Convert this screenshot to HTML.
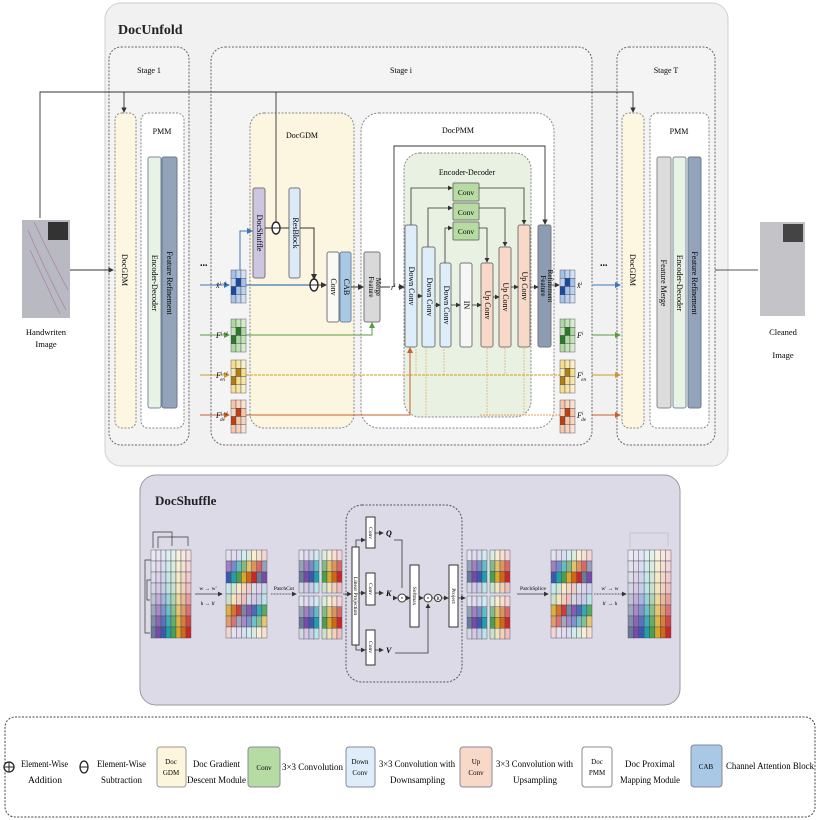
<!DOCTYPE html>
<html><head><meta charset="utf-8"><style>
html,body{margin:0;padding:0;background:#fff;}
svg{display:block;font-family:"Liberation Serif",serif;}
</style></head><body>
<svg id="s" width="820" height="820" viewBox="0 0 820 820" xmlns="http://www.w3.org/2000/svg">
<defs>
<marker id="a" markerWidth="6" markerHeight="6" refX="5" refY="3" orient="auto"><path d="M0,0 L6,3 L0,6z" fill="#333"/></marker>
<marker id="ab" markerWidth="6" markerHeight="6" refX="5" refY="3" orient="auto"><path d="M0,0 L6,3 L0,6z" fill="#3a78b8"/></marker>
<marker id="ag" markerWidth="6" markerHeight="6" refX="5" refY="3" orient="auto"><path d="M0,0 L6,3 L0,6z" fill="#5a9a40"/></marker>
<marker id="ay" markerWidth="6" markerHeight="6" refX="5" refY="3" orient="auto"><path d="M0,0 L6,3 L0,6z" fill="#c89a30"/></marker>
<marker id="ao" markerWidth="6" markerHeight="6" refX="5" refY="3" orient="auto"><path d="M0,0 L6,3 L0,6z" fill="#c8602a"/></marker>
</defs>

<!-- DocUnfold panel -->
<rect x="105" y="3" width="623" height="463" rx="16" fill="#f1f1f1" stroke="#cfcfcf"/>
<text x="118" y="34" font-size="14" font-weight="bold" fill="#222">DocUnfold</text>

<rect x="109" y="47" width="80" height="398" rx="12" fill="#f4f4f4" stroke="#666" stroke-dasharray="2,1.5"/>
<rect x="211" y="47" width="381" height="398" rx="14" fill="#f4f4f4" stroke="#666" stroke-dasharray="2,1.5"/>
<rect x="617" y="47" width="98" height="398" rx="12" fill="#f4f4f4" stroke="#666" stroke-dasharray="2,1.5"/>
<text x="149" y="73" font-size="8" text-anchor="middle">Stage 1</text>
<text x="401" y="73" font-size="8" text-anchor="middle">Stage i</text>
<text x="666" y="73" font-size="8" text-anchor="middle">Stage T</text>

<!-- stage 1 -->
<rect x="115" y="113" width="21" height="315" rx="7" fill="#fdf7e2" stroke="#888" stroke-dasharray="2,1.5"/>
<text transform="translate(122,270) rotate(90)" font-size="8" text-anchor="middle">DocGDM</text>
<rect x="141" y="113" width="43" height="315" rx="7" fill="#fff" stroke="#888" stroke-dasharray="2,1.5"/>
<text x="162" y="134" font-size="8" text-anchor="middle">PMM</text>
<rect x="148" y="157" width="13" height="251" rx="2" fill="#e8f3e6" stroke="#7a8a99"/>
<rect x="162" y="157" width="15" height="251" rx="2" fill="#93a3ba" stroke="#6a7a90"/>
<text transform="translate(152,283) rotate(90)" font-size="8" text-anchor="middle">Encoder-Decoder</text>
<text transform="translate(167,283) rotate(90)" font-size="8" text-anchor="middle">Feature Refinement</text>

<!-- stage T -->
<rect x="622" y="113" width="22" height="315" rx="7" fill="#fdf7e2" stroke="#888" stroke-dasharray="2,1.5"/>
<text transform="translate(630,270) rotate(90)" font-size="8" text-anchor="middle">DocGDM</text>
<rect x="650" y="113" width="59" height="315" rx="7" fill="#fff" stroke="#888" stroke-dasharray="2,1.5"/>
<text x="679" y="134" font-size="8" text-anchor="middle">PMM</text>
<rect x="657" y="157" width="14" height="251" rx="2" fill="#dcdcdc" stroke="#8a8a8a"/>
<rect x="673" y="157" width="13" height="251" rx="2" fill="#e8f3e6" stroke="#7a8a99"/>
<rect x="688" y="157" width="13" height="251" rx="2" fill="#93a3ba" stroke="#6a7a90"/>
<text transform="translate(661,283) rotate(90)" font-size="8" text-anchor="middle">Feature Merge</text>
<text transform="translate(677,283) rotate(90)" font-size="8" text-anchor="middle">Encoder-Decoder</text>
<text transform="translate(692,283) rotate(90)" font-size="8" text-anchor="middle">Feature Refinement</text>

<!-- stage i: DocGDM & DocPMM -->
<rect x="250" y="113" width="104" height="315" rx="14" fill="#fcf6e0" stroke="#888" stroke-dasharray="2,1.5"/>
<text x="302" y="138" font-size="8" text-anchor="middle">DocGDM</text>
<rect x="361" y="113" width="193" height="315" rx="18" fill="#fff" stroke="#888" stroke-dasharray="2,1.5"/>
<text x="458" y="133" font-size="8" text-anchor="middle">DocPMM</text>
<rect x="404" y="153" width="127" height="264" rx="16" fill="#e8f1e2" stroke="#888" stroke-dasharray="2,1.5"/>
<text x="467" y="175" font-size="8" text-anchor="middle">Encoder-Decoder</text>

<!-- top line -->
<polyline points="40,218 40,92 633,92 633,112" fill="none" stroke="#333" stroke-width="0.9" marker-end="url(#a)"/>
<line x1="124" y1="92" x2="124" y2="112" stroke="#333" stroke-width="0.9" marker-end="url(#a)"/>
<line x1="276" y1="92" x2="276" y2="221" stroke="#333" stroke-width="0.9"/>
<!-- left image -->
<rect x="22" y="220" width="48" height="98" fill="#b9b9c2"/>
<rect x="48" y="222" width="20" height="18" fill="#333"/>
<path d="M28,230 Q45,270 66,310 M30,250 Q44,280 60,314 M34,222 Q52,260 68,290" stroke="#b07ab0" stroke-width="0.7" fill="none"/>
<text x="46" y="335" font-size="8.5" text-anchor="middle">Handwriten</text>
<text x="46" y="347" font-size="8.5" text-anchor="middle">Image</text>
<line x1="70" y1="270" x2="113" y2="270" stroke="#333" stroke-width="0.9" marker-end="url(#a)"/>
<!-- right image -->
<rect x="760" y="222" width="45" height="94" fill="#c4c4c8"/>
<rect x="783" y="224" width="20" height="18" fill="#444"/>
<text x="783" y="335" font-size="8.5" text-anchor="middle">Cleaned</text>
<text x="783" y="358" font-size="8.5" text-anchor="middle">Image</text>
<line x1="715" y1="270" x2="758" y2="270" stroke="#555" stroke-width="0.9"/>
<text x="200" y="266" font-size="10" font-weight="bold">...</text>
<text x="600" y="266" font-size="10" font-weight="bold">...</text>

<!-- colored lines -->
<line x1="200" y1="285" x2="229" y2="285" stroke="#3a78b8" marker-end="url(#ab)"/>
<line x1="200" y1="335" x2="229" y2="335" stroke="#5a9a40" marker-end="url(#ag)"/>
<line x1="200" y1="375" x2="229" y2="375" stroke="#c89a30" marker-end="url(#ay)"/>
<line x1="200" y1="415" x2="229" y2="415" stroke="#c8602a" marker-end="url(#ao)"/>
<line x1="592" y1="285" x2="620" y2="285" stroke="#3a78b8" marker-end="url(#ab)"/>
<line x1="592" y1="335" x2="620" y2="335" stroke="#5a9a40" marker-end="url(#ag)"/>
<line x1="592" y1="375" x2="620" y2="375" stroke="#c89a30" marker-end="url(#ay)"/>
<line x1="592" y1="415" x2="620" y2="415" stroke="#c8602a" marker-end="url(#ao)"/>
<line x1="246" y1="285" x2="310" y2="285" stroke="#3a78b8" stroke-width="1.2"/>
<polyline points="240,270 240,231 252,231" fill="none" stroke="#3a78b8" marker-end="url(#ab)"/>
<polyline points="246,335 372,335 372,323" fill="none" stroke="#5a9a40" marker-end="url(#ag)"/>
<line x1="246" y1="375" x2="560" y2="375" stroke="#d8b040" stroke-width="1.2" stroke-dasharray="3,1"/>
<polyline points="246,415 410,415 410,348" fill="none" stroke="#c8602a" marker-end="url(#ao)"/>
<line x1="480" y1="415" x2="560" y2="415" stroke="#e0a060" stroke-dasharray="2,1"/>
<g stroke="#e0b060" stroke-width="0.7" stroke-dasharray="2,1">
<line x1="416" y1="375" x2="416" y2="348"/><line x1="426" y1="415" x2="426" y2="348"/><line x1="444" y1="375" x2="444" y2="348"/>
<line x1="487" y1="348" x2="487" y2="415"/><line x1="505" y1="348" x2="505" y2="375"/><line x1="524" y1="348" x2="524" y2="415"/>
</g>

<!-- DocGDM internals -->
<rect x="253" y="188" width="12" height="90" rx="2" fill="#cdc6e0" stroke="#777"/>
<text transform="translate(257,233) rotate(90)" font-size="8" text-anchor="middle">DocShuffle</text>
<rect x="289" y="188" width="11" height="90" rx="2" fill="#dce9f7" stroke="#777"/>
<text transform="translate(293,233) rotate(90)" font-size="8" text-anchor="middle">ResBlock</text>
<line x1="265" y1="228" x2="289" y2="228" stroke="#333"/>
<ellipse cx="276" cy="228" rx="4" ry="6" fill="#fff" stroke="#222" stroke-width="1.4"/><line x1="272" y1="228" x2="280" y2="228" stroke="#222"/>
<polyline points="300,228 314,228 314,279" fill="none" stroke="#333" marker-end="url(#a)"/>
<ellipse cx="314" cy="285" rx="4" ry="6" fill="#fff" stroke="#222" stroke-width="1.4"/><line x1="310" y1="285" x2="318" y2="285" stroke="#222"/>
<line x1="318" y1="285" x2="326" y2="285" stroke="#333" marker-end="url(#a)"/>
<rect x="327" y="252" width="12" height="70" rx="2" fill="#fafaf5" stroke="#777"/>
<rect x="340" y="252" width="11" height="70" rx="2" fill="#a9c8e6" stroke="#6a88a8"/>
<text transform="translate(331,287) rotate(90)" font-size="8" text-anchor="middle">Conv</text>
<text transform="translate(344,287) rotate(90)" font-size="8" text-anchor="middle">CAB</text>
<line x1="351" y1="287" x2="363" y2="287" stroke="#333" marker-end="url(#a)"/>
<rect x="364" y="252" width="16" height="70" rx="2" fill="#d9d9d9" stroke="#777"/>
<text transform="translate(369,287) rotate(90)" font-size="7" text-anchor="middle">Feature</text>
<text transform="translate(376,287) rotate(90)" font-size="7" text-anchor="middle">Merge</text>
<line x1="380" y1="287" x2="390" y2="287" stroke="#333"/>
<text x="391" y="290" font-size="8" font-style="italic">r<tspan font-size="5" dy="-3">i</tspan></text>
<line x1="398" y1="287" x2="404" y2="287" stroke="#333" marker-end="url(#a)"/>

<!-- encoder-decoder -->
<polyline points="394,287 394,146 545,146 545,224" fill="none" stroke="#333" stroke-width="0.9" marker-end="url(#a)"/>
<g stroke="#777">
<rect x="405" y="225" width="12" height="122" rx="2" fill="#ddeefa"/>
<rect x="422" y="247" width="13" height="100" rx="2" fill="#ddeefa"/>
<rect x="440" y="263" width="11" height="84" rx="2" fill="#ddeefa"/>
<rect x="460" y="263" width="12" height="84" rx="2" fill="#f6f6f6"/>
<rect x="481" y="263" width="12" height="84" rx="2" fill="#f8d9c8"/>
<rect x="499" y="247" width="12" height="100" rx="2" fill="#f8d9c8"/>
<rect x="518" y="225" width="12" height="122" rx="2" fill="#f8d9c8"/>
<rect x="538" y="225" width="13" height="122" rx="2" fill="#8c9db3"/>
<rect x="453" y="183" width="26" height="18" rx="1" fill="#b6dca4"/>
<rect x="453" y="203" width="26" height="17" rx="1" fill="#b6dca4"/>
<rect x="453" y="222" width="26" height="18" rx="1" fill="#b6dca4"/>
</g>
<text x="466" y="195" font-size="7.5" text-anchor="middle">Conv</text>
<text x="466" y="215" font-size="7.5" text-anchor="middle">Conv</text>
<text x="466" y="234" font-size="7.5" text-anchor="middle">Conv</text>
<g font-size="8" text-anchor="middle">
<text transform="translate(409,286) rotate(90)">Down Conv</text>
<text transform="translate(427,297) rotate(90)">Down Conv</text>
<text transform="translate(444,305) rotate(90)">Down Conv</text>
<text transform="translate(464,305) rotate(90)">IN</text>
<text transform="translate(485,305) rotate(90)">Up Conv</text>
<text transform="translate(503,297) rotate(90)">Up Conv</text>
<text transform="translate(522,286) rotate(90)">Up Conv</text>
<text transform="translate(541,286) rotate(90)" font-size="7">Feature</text>
<text transform="translate(548,286) rotate(90)" font-size="7">Refinement</text>
</g>
<g stroke="#333" stroke-width="0.8" fill="none">
<line x1="417" y1="296" x2="422" y2="296" marker-end="url(#a)"/>
<line x1="435" y1="305" x2="440" y2="305" marker-end="url(#a)"/>
<line x1="451" y1="305" x2="460" y2="305" marker-end="url(#a)"/>
<line x1="472" y1="305" x2="481" y2="305" marker-end="url(#a)"/>
<line x1="493" y1="297" x2="499" y2="297" marker-end="url(#a)"/>
<line x1="511" y1="287" x2="518" y2="287" marker-end="url(#a)"/>
<line x1="530" y1="287" x2="538" y2="287" marker-end="url(#a)"/>
<polyline points="411,225 411,188 452,188" marker-end="url(#a)"/>
<polyline points="479,188 524,188 524,224" marker-end="url(#a)"/>
<polyline points="428,247 428,208 452,208" marker-end="url(#a)"/>
<polyline points="479,208 505,208 505,246" marker-end="url(#a)"/>
<polyline points="445,263 445,228 452,228" marker-end="url(#a)"/>
<polyline points="479,228 487,228 487,262" marker-end="url(#a)"/>
<line x1="551" y1="285" x2="559" y2="285" marker-end="url(#a)"/>
</g>

<!-- labels near grids -->
<g font-size="8" font-style="italic">
<text x="216" y="288">x̂<tspan font-size="5" dy="-3">i−1</tspan></text>
<text x="216" y="338">F<tspan font-size="5" dy="-3">i−1</tspan></text>
<text x="216" y="378">F<tspan font-size="5" dy="-3">i−1</tspan><tspan font-size="5" dx="-8" dy="6">en</tspan></text>
<text x="216" y="418">F<tspan font-size="5" dy="-3">i−1</tspan><tspan font-size="5" dx="-8" dy="6">de</tspan></text>
<text x="577" y="288">x̂<tspan font-size="5" dy="-3">i</tspan></text>
<text x="577" y="338">F<tspan font-size="5" dy="-3">i</tspan></text>
<text x="577" y="378">F<tspan font-size="5" dy="-3">i</tspan><tspan font-size="5" dx="-2" dy="6">en</tspan></text>
<text x="577" y="418">F<tspan font-size="5" dy="-3">i</tspan><tspan font-size="5" dx="-2" dy="6">de</tspan></text>
</g>
<g id="grids"></g>

<!-- DocShuffle panel -->
<rect x="140" y="475" width="540" height="230" rx="16" fill="#dddae8" stroke="#999"/>
<text x="155" y="505" font-size="13" font-weight="bold" fill="#222">DocShuffle</text>
<g id="grids2"></g>
<rect x="346" y="505" width="116" height="177" rx="16" fill="none" stroke="#555" stroke-dasharray="2,1.5"/>
<g stroke="#333" stroke-width="0.7" fill="none">
<polyline points="153,548 153,532 172,532 172,546"/>
<polyline points="158,548 158,537 188,537 188,546"/>
<polyline points="151,560 145,560 145,633 150,633"/>
<polyline points="151,580 147,580 147,600 150,600"/>
<polyline points="630,548 630,533 668,533 668,546" stroke="#bbb"/>
</g>
<g stroke="#333" stroke-width="0.8" fill="none">
<line x1="195" y1="594" x2="222" y2="594" marker-end="url(#a)"/>
<line x1="271" y1="594" x2="296" y2="594" stroke-dasharray="1,0.5" marker-end="url(#a)"/>
<line x1="343" y1="594" x2="351" y2="594" marker-end="url(#a)"/>
<polyline points="356,547 356,540 365,540" marker-end="url(#a)"/>
<line x1="359" y1="593" x2="365" y2="593" marker-end="url(#a)"/>
<polyline points="356,645 356,650 365,650" marker-end="url(#a)"/>
<line x1="375" y1="533" x2="383" y2="533" marker-end="url(#a)"/>
<line x1="375" y1="593" x2="383" y2="593" marker-end="url(#a)"/>
<line x1="375" y1="650" x2="383" y2="650" marker-end="url(#a)"/>
<polyline points="394,540 402,540 402,588"/>
<line x1="394" y1="598" x2="397" y2="598" marker-end="url(#a)"/>
<line x1="406" y1="598" x2="410" y2="598" marker-end="url(#a)"/>
<line x1="419" y1="598" x2="423" y2="598" marker-end="url(#a)"/>
<polyline points="395,653 428,653 428,604" marker-end="url(#a)"/>
<line x1="432" y1="598" x2="435" y2="598"/>
<line x1="442" y1="598" x2="448" y2="598" marker-end="url(#a)"/>
<line x1="458" y1="598" x2="465" y2="598" marker-end="url(#a)"/>
<line x1="517" y1="594" x2="548" y2="594" marker-end="url(#a)"/>
<line x1="594" y1="594" x2="626" y2="594" stroke-dasharray="1,0.5" marker-end="url(#a)"/>
</g>
<g font-size="5.5" text-anchor="middle">
<text x="208" y="590">w → w'</text><text x="208" y="605">h → h'</text>
<text x="284" y="590">PatchCut</text>
<text x="533" y="590">PatchSplice</text>
<text x="610" y="590">w' → w</text><text x="610" y="605">h' → h</text>
</g>
<g stroke="#333" fill="#fff">
<rect x="352" y="547" width="7" height="98"/>
<rect x="366" y="517" width="9" height="31"/>
<rect x="366" y="573" width="9" height="32"/>
<rect x="366" y="630" width="9" height="35"/>
<rect x="410" y="565" width="9" height="62"/>
<rect x="449" y="565" width="9" height="62"/>
<circle cx="402" cy="598" r="4"/><circle cx="428" cy="598" r="4"/><circle cx="438" cy="598" r="3.5"/>
</g>
<g font-size="5.5" text-anchor="middle">
<text transform="translate(354,596) rotate(90)">Linear Projection</text>
<text transform="translate(369,533) rotate(90)">Conv</text>
<text transform="translate(369,589) rotate(90)">Conv</text>
<text transform="translate(369,647) rotate(90)">Conv</text>
<text transform="translate(413,596) rotate(90)">Softmax</text>
<text transform="translate(452,596) rotate(90)">Project</text>
<text x="402" y="600" font-size="6">×</text><text x="428" y="600" font-size="6">×</text><text x="438" y="600" font-size="5">R</text>
</g>
<g font-size="8" font-style="italic" font-weight="bold">
<text x="386" y="536">Q</text><text x="386" y="596">K</text><text x="386" y="653">V</text>
</g>

<!-- legend -->
<rect x="5" y="717" width="810" height="100" rx="10" fill="#fff" stroke="#444" stroke-dasharray="2,1.5"/>
<g font-size="9" lengthAdjust="spacingAndGlyphs">
<circle cx="9" cy="767" r="5" fill="#fff" stroke="#222" stroke-width="1.3"/><line x1="4" y1="767" x2="14" y2="767" stroke="#222"/><line x1="9" y1="762" x2="9" y2="772" stroke="#222"/>
<text x="21" y="767" textLength="47" lengthAdjust="spacingAndGlyphs">Element-Wise</text><text x="28" y="783" textLength="34" lengthAdjust="spacingAndGlyphs">Addition</text>
<ellipse cx="84" cy="767" rx="4" ry="6" fill="#fff" stroke="#222" stroke-width="1.3"/><line x1="80" y1="767" x2="88" y2="767" stroke="#222"/>
<text x="97" y="767" textLength="49" lengthAdjust="spacingAndGlyphs">Element-Wise</text><text x="101" y="783" textLength="41" lengthAdjust="spacingAndGlyphs">Subtraction</text>
<rect x="157" y="747" width="29" height="40" rx="3" fill="#fdf6dc" stroke="#999"/>
<text x="171" y="764" font-size="7" text-anchor="middle">Doc</text><text x="171" y="775" font-size="7" text-anchor="middle">GDM</text>
<text x="193" y="767" textLength="47" lengthAdjust="spacingAndGlyphs">Doc Gradient</text><text x="187" y="783" textLength="59" lengthAdjust="spacingAndGlyphs">Descent Module</text>
<rect x="248" y="747" width="32" height="40" rx="3" fill="#b6dca4" stroke="#889"/>
<text x="264" y="770" font-size="7" text-anchor="middle">Conv</text>
<text x="282" y="770" textLength="61" lengthAdjust="spacingAndGlyphs">3×3 Convolution</text>
<rect x="346" y="747" width="29" height="40" rx="3" fill="#ddeefa" stroke="#889"/>
<text x="360" y="764" font-size="7" text-anchor="middle">Down</text><text x="360" y="775" font-size="7" text-anchor="middle">Conv</text>
<text x="379" y="767" textLength="76" lengthAdjust="spacingAndGlyphs">3×3 Convolution with</text><text x="390" y="783" textLength="55" lengthAdjust="spacingAndGlyphs">Downsampling</text>
<rect x="460" y="747" width="32" height="40" rx="3" fill="#f8d9c8" stroke="#889"/>
<text x="476" y="764" font-size="7" text-anchor="middle">Up</text><text x="476" y="775" font-size="7" text-anchor="middle">Conv</text>
<text x="496" y="767" textLength="77" lengthAdjust="spacingAndGlyphs">3×3 Convolution with</text><text x="513" y="783" textLength="44" lengthAdjust="spacingAndGlyphs">Upsampling</text>
<rect x="582" y="747" width="30" height="40" rx="3" fill="#fff" stroke="#889"/>
<text x="597" y="764" font-size="7" text-anchor="middle">Doc</text><text x="597" y="775" font-size="7" text-anchor="middle">PMM</text>
<text x="625" y="767" textLength="50" lengthAdjust="spacingAndGlyphs">Doc Proximal</text><text x="620" y="783" textLength="60" lengthAdjust="spacingAndGlyphs">Mapping Module</text>
<rect x="691" y="745" width="31" height="42" rx="3" fill="#a9c8e6" stroke="#889"/>
<text x="706" y="769" font-size="7" text-anchor="middle">CAB</text>
<text x="726" y="769" textLength="88" lengthAdjust="spacingAndGlyphs">Channel Attention Block</text>
</g>
</svg>
<script>
(function(){
var NS="http://www.w3.org/2000/svg",g=document.getElementById('grids');
function r(x,y,w,h,f){var e=document.createElementNS(NS,'rect');e.setAttribute('x',x);e.setAttribute('y',y);e.setAttribute('width',w);e.setAttribute('height',h);e.setAttribute('fill',f);e.setAttribute('stroke','#445');e.setAttribute('stroke-width','0.4');g.appendChild(e);}
function hex(c){return [parseInt(c.substr(1,2),16),parseInt(c.substr(3,2),16),parseInt(c.substr(5,2),16)];}
function mix(c,t){var a=hex(c);return 'rgb('+a.map(function(v){return Math.round(v+(255-v)*t)}).join(',')+')';}
var P=['#6a7a9a','#7a4aa8','#3a5ab0','#20a0a8','#4aa050','#d8a828','#d06818','#c82828'];
function grid(x,y,w,h,cols,rows,fn){var cw=w/cols,rh=h/rows;for(var i=0;i<rows;i++)for(var j=0;j<cols;j++)r(x+j*cw,y+i*rh,cw,rh,fn(i,j));}
function small(x,y,base,dark){grid(x,y,15,33,3,4,function(i,j){return (i==1&&j==1)||(i==2&&j==0)?dark:mix(base,0.4+0.15*((i+j)%3));});}
small(231,270,'#6a9ad8','#1a4aa0');small(231,319,'#7ac060','#2a7a2a');small(231,360,'#f0c840','#b08010');small(231,400,'#f0a070','#c04010');
small(560,270,'#6a9ad8','#1a4aa0');small(560,319,'#7ac060','#2a7a2a');small(560,360,'#f0c840','#b08010');small(560,400,'#f0a070','#c04010');
g=document.getElementById('grids2');
var lev=[0.85,0.8,0.75,0.7,0.55,0.35,0.15,0];
grid(151,550,40,88,8,8,function(i,j){return mix(P[j],lev[i]);});
var sl=[0.8,0.3,0,0.75,0.7,0.1,0.35,0.8];
grid(226,550,41,88,8,8,function(i,j){return mix(P[(j+i)%8],sl[i]);});
function quad(x,y){var a=[0.8,0.3,0,0.7];grid(x,y,20,43,4,4,function(i,j){return mix(P[j],a[i]);});grid(x+23,y,20,43,4,4,function(i,j){return mix(P[j+4],a[i]);});grid(x,y+46,20,43,4,4,function(i,j){return mix(P[j],a[i]);});grid(x+23,y+46,20,43,4,4,function(i,j){return mix(P[j+4],a[i]);});}
quad(299,550);quad(467,550);
grid(551,550,41,88,8,8,function(i,j){return mix(P[(j+i)%8],sl[i]);});
grid(628,550,43,88,8,8,function(i,j){return mix(P[j],lev[i]);});
})();
</script>
</body></html>
